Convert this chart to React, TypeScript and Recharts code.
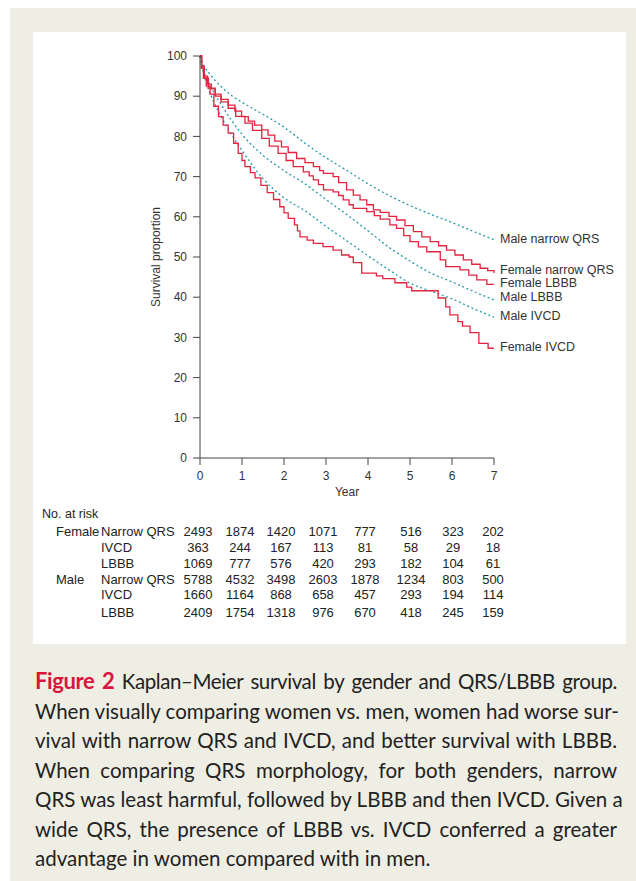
import React from 'react';
import { LabelList, Line, LineChart, XAxis, YAxis } from 'recharts';

// Kaplan–Meier survival (%), [year, survival]
const femaleNarrowQrs: [number, number][] = [
  [0, 100], [0.04, 97.5], [0.1, 95], [0.18, 93], [0.27, 91.8], [0.36, 90.5],
  [0.5, 89.2], [0.67, 87.8], [0.83, 86.3], [0.99, 84.9], [1.15, 83.8], [1.3, 82.8],
  [1.47, 81.6], [1.62, 80.3], [1.78, 78.8], [1.94, 77.4], [2.1, 76], [2.3, 74.5],
  [2.5, 73.5], [2.7, 72.5], [2.85, 71.5], [2.94, 70.8], [3.17, 70], [3.3, 68.5],
  [3.49, 66.7], [3.65, 65.4], [3.81, 64.2], [3.97, 63], [4.13, 61.7], [4.29, 61.1],
  [4.5, 60.1], [4.68, 59.2], [4.88, 57.8], [5.08, 56.3], [5.28, 55], [5.48, 53.8],
  [5.68, 52.8], [5.87, 51.7], [6.07, 50.5], [6.27, 49.3], [6.47, 48.2], [6.67, 47.2],
  [6.85, 46.6], [7, 46],
];

const femaleLbbb: [number, number][] = [
  [0, 100], [0.04, 97], [0.1, 94.5], [0.2, 92], [0.36, 90], [0.5, 88.6],
  [0.67, 87], [0.85, 85], [1.07, 83.3], [1.25, 81.5], [1.47, 79.5], [1.65, 77.6],
  [1.86, 75.8], [2.05, 74], [2.22, 72.5], [2.46, 71.2], [2.6, 70.2], [2.7, 69.2],
  [2.82, 68], [2.94, 66.7], [3.17, 66.2], [3.3, 65.3], [3.41, 64.2], [3.55, 63],
  [3.65, 62.1], [3.97, 61.3], [4.15, 60.3], [4.29, 59.4], [4.52, 58], [4.68, 57.1],
  [4.85, 55.3], [5.0, 53.8], [5.2, 52.5], [5.4, 51.3], [5.72, 49.3], [5.85, 47.6],
  [6.19, 46.8], [6.4, 45.5], [6.59, 44.3], [6.83, 43.2], [7, 43.2],
];

const femaleIvcd: [number, number][] = [
  [0, 100], [0.03, 97], [0.08, 94.5], [0.15, 92.5], [0.24, 90.5], [0.33, 87.5],
  [0.44, 84.9], [0.55, 82.8], [0.67, 80.8], [0.8, 78.3], [0.91, 75.8], [1.0, 74],
  [1.07, 72.5], [1.2, 71], [1.31, 69.7], [1.45, 67.8], [1.6, 66], [1.75, 64.3],
  [1.9, 62.5], [2.0, 61], [2.1, 59.6], [2.25, 58], [2.32, 56.5], [2.38, 55],
  [2.55, 54.2], [2.7, 53.4], [2.93, 52.6], [3.17, 51.7], [3.37, 50.5], [3.55, 50],
  [3.65, 48.6], [3.85, 46], [4.2, 45.3], [4.35, 44.6], [4.64, 43.6], [4.92, 42.5],
  [5.04, 41.6], [5.67, 39.8], [5.85, 37.6], [5.95, 35.6], [6.14, 33.9], [6.25, 32.8],
  [6.43, 31.2], [6.64, 28.5], [6.86, 27.3], [7, 27.3],
];

const maleNarrowQrs: [number, number][] = [
  [0, 100], [0.1, 97.5], [0.25, 95.3], [0.5, 92.4], [0.75, 90.2], [1, 88.5],
  [1.5, 85.5], [2, 82.3], [2.5, 78.3], [3, 74.7], [3.5, 71.5], [4, 68.2],
  [4.5, 65.3], [5, 62.8], [5.5, 60.6], [6, 58.6], [6.5, 56.4], [7, 54.3],
];

const maleLbbb: [number, number][] = [
  [0, 100], [0.1, 96], [0.25, 92.5], [0.5, 88], [0.75, 84], [1, 80.5],
  [1.5, 75.3], [2, 71.5], [2.5, 68.2], [3, 64.3], [3.5, 60.5], [4, 56.5],
  [4.5, 52.4], [5, 49], [5.5, 46], [6, 43.8], [6.5, 41.5], [7, 39.3],
];

const maleIvcd: [number, number][] = [
  [0, 100], [0.1, 95], [0.25, 90.5], [0.5, 85], [0.75, 80.5], [1, 76.5],
  [1.5, 69.5], [2, 64.7], [2.5, 61.5], [3, 57.6], [3.5, 54], [4, 50.3],
  [4.5, 46.8], [5, 43.5], [5.5, 41.5], [6, 39.6], [6.5, 37.2], [7, 35],
];

const yearTicks = [0, 1, 2, 3, 4, 5, 6, 7];
const survivalTicks = [0, 10, 20, 30, 40, 50, 60, 70, 80, 90, 100];

// numbers at risk
const riskGroups = ['Female', '', '', 'Male', '', ''];
const riskSubgroups = ['Narrow QRS', 'IVCD', 'LBBB', 'Narrow QRS', 'IVCD', 'LBBB'];
const femaleNarrowAtRisk = [2493, 1874, 1420, 1071, 777, 516, 323, 202];
const femaleIvcdAtRisk = [363, 244, 167, 113, 81, 58, 29, 18];
const femaleLbbbAtRisk = [1069, 777, 576, 420, 293, 182, 104, 61];
const maleNarrowAtRisk = [5788, 4532, 3498, 2603, 1878, 1234, 803, 500];
const maleIvcdAtRisk = [1660, 1164, 868, 658, 457, 293, 194, 114];
const maleLbbbAtRisk = [2409, 1754, 1318, 976, 670, 418, 245, 159];

const captionLines = [
  'When visually comparing women vs. men, women had worse sur-',
  'vival with narrow QRS and IVCD, and better survival with LBBB.',
  'When comparing QRS morphology, for both genders, narrow',
  'QRS was least harmful, followed by LBBB and then IVCD. Given a',
  'wide QRS, the presence of LBBB vs. IVCD conferred a greater',
  'advantage in women compared with in men.',
];

const FONT = '"Liberation Sans", Arial, Helvetica, sans-serif';
const RED = '#e3243f';
const TEAL = '#2799ad';

const toPoints = (rows: [number, number][]) =>
  rows.map(([year, surv]) => ({ year, surv }));

const endLabel = (text: string, dy: number, lastIndex: number) =>
  (props: any) => {
    if (props.index !== lastIndex) return null;
    return (
      <text
        x={Number(props.x) + 6}
        y={Number(props.y) + dy}
        fontSize={12.5}
        fontFamily={FONT}
        fill="#333"
        dominantBaseline="central"
      >
        {text}
      </text>
    );
  };

const series = [
  { name: 'Male narrow QRS', rows: maleNarrowQrs, female: false, dy: -1 },
  { name: 'Male LBBB', rows: maleLbbb, female: false, dy: -3.3 },
  { name: 'Male IVCD', rows: maleIvcd, female: false, dy: -1.6 },
  { name: 'Female narrow QRS', rows: femaleNarrowQrs, female: true, dy: -3 },
  { name: 'Female LBBB', rows: femaleLbbb, female: true, dy: -1.2 },
  { name: 'Female IVCD', rows: femaleIvcd, female: true, dy: -1.6 },
];

const riskRows = [
  femaleNarrowAtRisk, femaleIvcdAtRisk, femaleLbbbAtRisk,
  maleNarrowAtRisk, maleIvcdAtRisk, maleLbbbAtRisk,
];
const riskRowY = [532, 548, 564, 579.5, 595, 613];
const riskColX = [198, 240, 281, 323, 365, 411, 453, 493];

function SurvivalChart(): JSX.Element {
  return (
    <LineChart
      width={636}
      height={520}
      margin={{ top: 56, right: 142, bottom: 22, left: 140 }}
      style={{ position: 'absolute', left: 0, top: 0 }}
    >
      <XAxis
        type="number"
        dataKey="year"
        domain={[0, 7]}
        ticks={yearTicks}
        height={40}
        tickSize={7}
        tickMargin={6}
        stroke="#444"
        tick={{ fontSize: 12, fill: '#333', fontFamily: FONT }}
        label={{ value: 'Year', position: 'insideBottom', offset: 2, fontSize: 12, fill: '#333', fontFamily: FONT }}
        allowDuplicatedCategory={false}
      />
      <YAxis
        type="number"
        dataKey="surv"
        domain={[0, 100]}
        ticks={survivalTicks}
        width={60}
        tickSize={7}
        tickMargin={6}
        stroke="#444"
        tick={{ fontSize: 12, fill: '#333', fontFamily: FONT }}
        label={{
          value: 'Survival proportion',
          angle: -90,
          position: 'insideLeft',
          offset: 15.5,
          fontSize: 12,
          fill: '#333',
          fontFamily: FONT,
          style: { textAnchor: 'middle' },
        }}
      />
      {series.map((s) => (
        <Line
          key={s.name}
          data={toPoints(s.rows)}
          dataKey="surv"
          type={s.female ? 'stepAfter' : 'monotone'}
          stroke={s.female ? RED : TEAL}
          strokeWidth={1.3}
          strokeDasharray={s.female ? undefined : '2 2.6'}
          dot={false}
          isAnimationActive={false}
        >
          <LabelList dataKey="surv" content={endLabel(s.name, s.dy, s.rows.length - 1)} />
        </Line>
      ))}
    </LineChart>
  );
}

export default function App(): JSX.Element {
  return (
    <div
      style={{
        position: 'absolute',
        left: 0,
        top: 0,
        width: 636,
        height: 881,
        background: '#ffffff',
        overflow: 'hidden',
        fontFamily: FONT,
        color: '#222',
      }}
    >
      <div style={{ position: 'absolute', left: 10, top: 8, width: 626, height: 873, background: '#efeee4' }} />
      <div style={{ position: 'absolute', left: 33, top: 32, width: 593, height: 612, background: '#ffffff' }} />

      <SurvivalChart />

      <div style={{ position: 'absolute', left: 42, top: 506, fontSize: 12.5, lineHeight: '16px' }}>No. at risk</div>
      {riskRows.map((row, r) => (
        <React.Fragment key={r}>
          <div style={{ position: 'absolute', left: 56, top: riskRowY[r] - 8, fontSize: 13, lineHeight: '16px' }}>
            {riskGroups[r]}
          </div>
          <div style={{ position: 'absolute', left: 101, top: riskRowY[r] - 8, fontSize: 13, lineHeight: '16px' }}>
            {riskSubgroups[r]}
          </div>
          {row.map((n, c) => (
            <div
              key={c}
              style={{
                position: 'absolute',
                left: riskColX[c],
                top: riskRowY[r] - 8,
                fontSize: 13,
                lineHeight: '16px',
                transform: 'translateX(-50%)',
              }}
            >
              {n}
            </div>
          ))}
        </React.Fragment>
      ))}

      <div
        style={{
          position: 'absolute',
          left: 35,
          top: 666,
          width: 582,
          fontFamily: 'Lato, "Open Sans", sans-serif',
          fontSize: 20.5,
          lineHeight: '29.5px',
          color: '#222',
        }}
      >
        <div style={{ whiteSpace: 'nowrap', textAlign: 'justify', textAlignLast: 'justify', letterSpacing: -0.4 }}>
          <span style={{ color: '#d6163f', fontWeight: 700, fontSize: 22 }}>Figure 2</span>{' '}
          Kaplan–Meier survival by gender and QRS/LBBB group.
        </div>
        {captionLines.map((line, i) => (
          <div
            key={i}
            style={{
              whiteSpace: 'nowrap',
              textAlign: 'justify',
              textAlignLast: i === captionLines.length - 1 ? 'left' : 'justify',
            }}
          >
            {line}
          </div>
        ))}
      </div>
    </div>
  );
}
